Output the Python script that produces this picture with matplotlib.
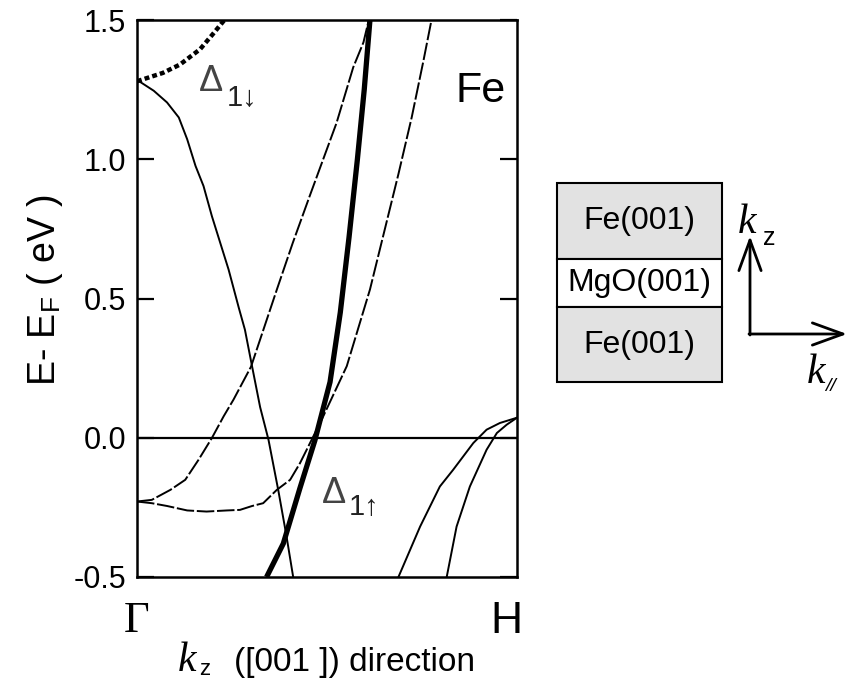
import numpy as np
import matplotlib
matplotlib.use('Agg')
import matplotlib.pyplot as plt
from matplotlib.patches import Rectangle

plt.rcParams['font.family'] = ['Liberation Sans', 'DejaVu Sans']
plt.rcParams['axes.unicode_minus'] = False
plt.rcParams['mathtext.fontset'] = 'custom'
plt.rcParams['mathtext.rm'] = 'Liberation Sans'
plt.rcParams['mathtext.it'] = 'Liberation Serif:italic'

# bcc Fe bands along Gamma-H, k in units of Gamma-H
# Delta1 minority (thick dotted)
k_d1dn = [0.0, 0.068, 0.113, 0.166, 0.20, 0.23]
e_d1dn = [1.28, 1.31, 1.34, 1.395, 1.45, 1.50]

# Delta1 majority (thick solid)
k_d1up = [0.341, 0.385, 0.429, 0.468, 0.508, 0.535, 0.558, 0.580, 0.598, 0.613]
e_d1up = [-0.50, -0.38, -0.18, -0.01, 0.20, 0.45, 0.72, 1.00, 1.25, 1.50]

# majority band coming down from Gamma (thin solid)
k_maj1 = [0.0, 0.044, 0.079, 0.110, 0.132, 0.154, 0.175, 0.197, 0.219, 0.241,
          0.268, 0.284, 0.302, 0.324, 0.346, 0.372, 0.393, 0.411]
e_maj1 = [1.285, 1.246, 1.204, 1.150, 1.072, 0.976, 0.904, 0.796, 0.700, 0.604,
          0.466, 0.388, 0.262, 0.110, -0.007, -0.19, -0.35, -0.50]

# minority bands starting at Gamma (thin dashed)
k_min1 = [0.0, 0.039, 0.088, 0.127, 0.162, 0.197, 0.228, 0.254, 0.30, 0.368,
          0.41, 0.455, 0.525, 0.569, 0.596, 0.61]
e_min1 = [-0.229, -0.223, -0.187, -0.151, -0.079, -0.001, 0.077, 0.137, 0.255, 0.532,
          0.70, 0.87, 1.13, 1.33, 1.42, 1.50]

k_min2 = [0.0, 0.039, 0.079, 0.132, 0.183, 0.237, 0.271, 0.303, 0.332, 0.368,
          0.403, 0.429, 0.486, 0.552, 0.613, 0.688, 0.723, 0.754, 0.775]
e_min2 = [-0.229, -0.235, -0.245, -0.261, -0.265, -0.261, -0.259, -0.245, -0.235, -0.187,
          -0.151, -0.091, 0.065, 0.257, 0.532, 0.947, 1.151, 1.355, 1.50]

# bands near H (thin solid)
k_h1 = [0.688, 0.745, 0.797, 0.832, 0.885, 0.920, 0.955, 1.0]
e_h1 = [-0.50, -0.319, -0.175, -0.115, -0.019, 0.029, 0.053, 0.072]
k_h2 = [0.815, 0.841, 0.876, 0.920, 0.947, 0.973, 1.0]
e_h2 = [-0.50, -0.319, -0.175, -0.043, 0.017, 0.047, 0.072]

yticks = [-0.5, 0.0, 0.5, 1.0, 1.5]
layers = ['Fe(001)', 'MgO(001)', 'Fe(001)']
layer_fill = ['#e2e2e2', 'white', '#e2e2e2']

fig = plt.figure(figsize=(8.5, 6.82), dpi=100)
ax = fig.add_axes([137 / 850, 1 - 577 / 682, 380 / 850, 557 / 682])

ax.axhline(0.0, color='black', lw=1.6)
ax.plot(k_maj1, e_maj1, color='black', lw=1.4)
ax.plot(k_h1, e_h1, color='black', lw=1.4)
ax.plot(k_h2, e_h2, color='black', lw=1.4)
ax.plot(k_min1, e_min1, color='black', lw=1.4, ls=(0, (9, 1.4)))
ax.plot(k_min2, e_min2, color='black', lw=1.4, ls=(0, (9, 1.4)))
ax.plot(k_d1up, e_d1up, color='black', lw=3.8, solid_capstyle='butt')
ax.plot(k_d1dn, e_d1dn, color='black', lw=3.2, ls=(0, (1.1, 0.7)))

ax.set_xlim(0, 1)
ax.set_ylim(-0.5, 1.5)
ax.set_yticks(yticks)
ax.set_yticklabels(['%.1f' % v for v in yticks])
ax.tick_params(axis='y', which='major', direction='in', length=12, width=1.6,
               labelsize=22, right=True, pad=8)
ax.set_xticks([])
for s in ax.spines.values():
    s.set_linewidth(1.8)

ax.set_ylabel(r'E- E$_{\mathrm{F}}$ ( eV )', fontsize=27)
ax.yaxis.set_label_coords(-0.19, 0.515)
ax.text(0.0, -0.585, 'Γ', family=['Liberation Serif'], fontsize=32,
        ha='center', va='top')
ax.text(0.972, -0.585, 'H', fontsize=32, ha='center', va='top')

ax.text(0.162, 1.245, 'Δ', fontsize=26, color='#444444')
ax.text(0.236, 1.19, '1↓', fontsize=21, color='#222222')
ax.text(0.487, -0.234, 'Δ', fontsize=26, color='#444444')
ax.text(0.556, -0.277, '1↑', fontsize=21, color='#222222')
ax.text(0.837, 1.205, 'Fe', fontsize=31)

# layer stack, k axes and axis caption, drawn in pixel units
ov = fig.add_axes([0, 0, 1, 1])
ov.set_xlim(0, 850)
ov.set_ylim(682, 0)
ov.axis('off')

kfont = dict(family=['Liberation Serif'], style='italic', fontsize=30,
             ha='left', va='baseline')
ov.text(178, 671, 'k', **kfont)
ov.text(199, 675, 'z', fontsize=16, ha='left', va='baseline')
ov.text(234, 671, '([001 ]) direction', fontsize=24, ha='left', va='baseline')

edges = [183, 259, 307, 382]
for i, name in enumerate(layers):
    ov.add_patch(Rectangle((557, edges[i]), 165, edges[i + 1] - edges[i],
                           facecolor=layer_fill[i], edgecolor='black', lw=1.5))
    ov.text(639.5, (edges[i] + edges[i + 1]) / 2, name, fontsize=23,
            ha='center', va='center')

head = '->,head_length=1.1,head_width=0.4'
ov.annotate('', xy=(750, 236), xytext=(750, 335),
            arrowprops=dict(arrowstyle=head, lw=2.0, color='black',
                            mutation_scale=20, shrinkA=0, shrinkB=0))
ov.annotate('', xy=(847, 334), xytext=(749, 334),
            arrowprops=dict(arrowstyle=head, lw=2.0, color='black',
                            mutation_scale=20, shrinkA=0, shrinkB=0))
ov.text(738, 233, 'k', **kfont)
ov.text(763, 245, 'z', fontsize=18, ha='left', va='baseline')
ov.text(807, 383, 'k', **kfont)
ov.text(825, 391, '//', fontsize=14, style='italic', ha='left', va='baseline')

fig.savefig('out.png', dpi=100)
